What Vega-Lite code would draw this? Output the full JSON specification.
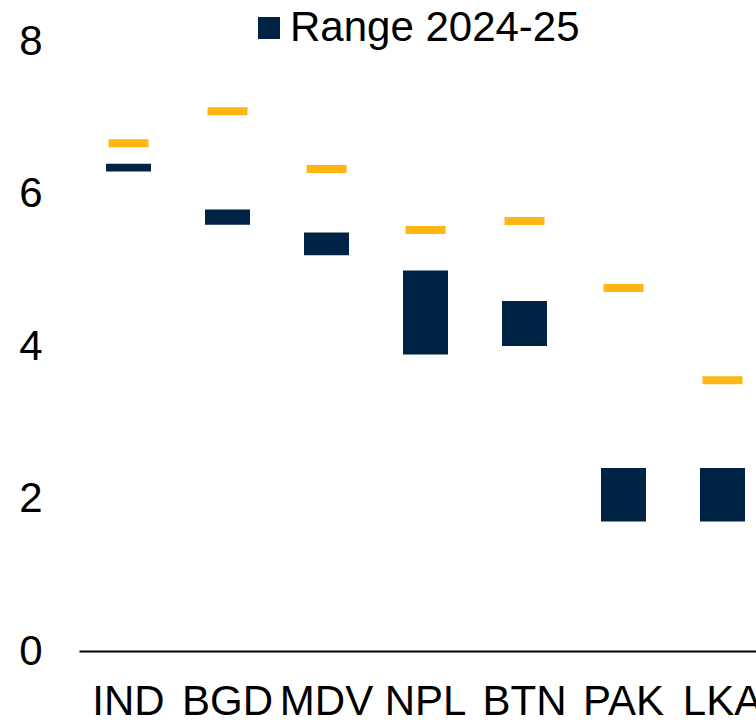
{
  "$schema": "https://vega.github.io/schema/vega-lite/v6.json",
  "width": 677,
  "height": 610,
  "autosize": {"type": "none"},
  "padding": {"left": 79, "top": 41, "right": 0, "bottom": 69},
  "background": "white",
  "config": {
    "view": {"stroke": null},
    "font": "Liberation Sans"
  },
  "data": {
    "values": [
      {"country": "IND", "low": 6.29, "high": 6.39, "forecast": 6.66, "series": "Range 2024-25"},
      {"country": "BGD", "low": 5.59, "high": 5.79, "forecast": 7.08, "series": "Range 2024-25"},
      {"country": "MDV", "low": 5.19, "high": 5.49, "forecast": 6.32, "series": "Range 2024-25"},
      {"country": "NPL", "low": 3.89, "high": 4.99, "forecast": 5.52, "series": "Range 2024-25"},
      {"country": "BTN", "low": 4.0, "high": 4.59, "forecast": 5.64, "series": "Range 2024-25"},
      {"country": "PAK", "low": 1.7, "high": 2.4, "forecast": 4.76, "series": "Range 2024-25"},
      {"country": "LKA", "low": 1.7, "high": 2.4, "forecast": 3.55, "series": "Range 2024-25"}
    ]
  },
  "encoding": {
    "x": {
      "field": "country",
      "type": "nominal",
      "sort": null,
      "scale": {"range": [0, 693], "paddingInner": 0, "paddingOuter": 0},
      "axis": {
        "title": null,
        "labelAngle": 0,
        "labelFontSize": 42,
        "labelColor": "black",
        "labelPadding": 30,
        "labelOverlap": false,
        "labelBound": false,
        "labelFlush": false,
        "ticks": false,
        "domainColor": "black",
        "domainWidth": 2,
        "grid": false
      }
    }
  },
  "layer": [
    {
      "mark": {"type": "bar", "width": 45},
      "encoding": {
        "y": {
          "field": "low",
          "type": "quantitative",
          "scale": {"domain": [0, 8], "nice": false},
          "axis": {
            "title": null,
            "values": [0, 2, 4, 6, 8],
            "format": "d",
            "labelFontSize": 42,
            "labelColor": "black",
            "labelPadding": 37,
            "ticks": false,
            "domain": false,
            "grid": false
          }
        },
        "y2": {"field": "high"},
        "color": {
          "field": "series",
          "type": "nominal",
          "scale": {"range": ["#002245"]},
          "legend": {
            "title": null,
            "orient": "none",
            "legendX": 169,
            "legendY": -34,
            "symbolType": "square",
            "symbolSize": 484,
            "symbolStrokeWidth": 0,
            "labelFontSize": 42,
            "labelColor": "black",
            "labelOffset": 0,
            "labelLimit": 500
          }
        }
      }
    },
    {
      "mark": {"type": "tick", "size": 40, "thickness": 8, "color": "#FDB614", "opacity": 1},
      "encoding": {
        "y": {"field": "forecast", "type": "quantitative"}
      }
    }
  ]
}
